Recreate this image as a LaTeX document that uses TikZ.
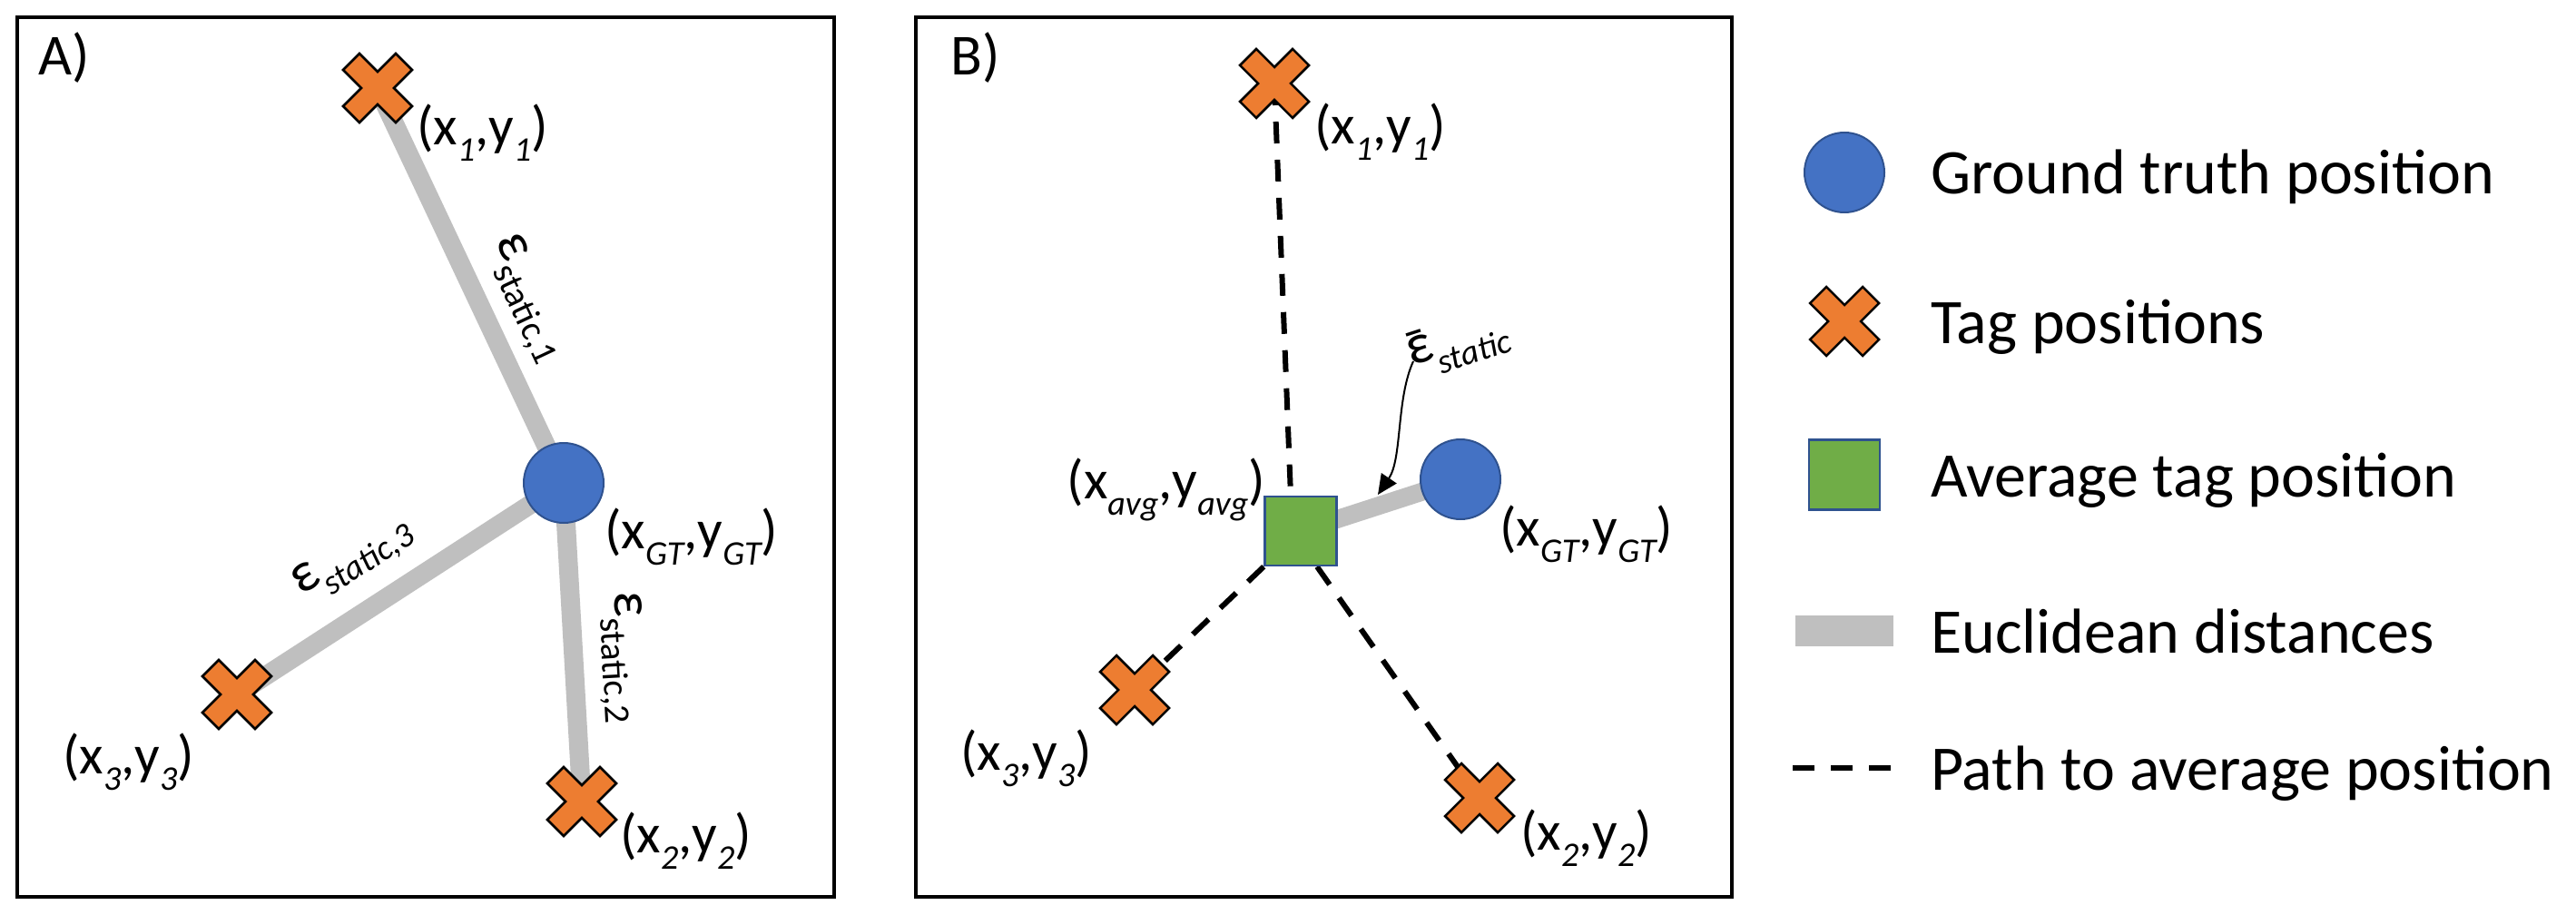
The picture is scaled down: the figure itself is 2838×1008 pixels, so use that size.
\documentclass[tikz,border=0pt]{standalone}
\usepackage{fontspec}
\setmainfont{Carlito}
\usetikzlibrary{arrows.meta,calc}
\definecolor{tagorange}{HTML}{ED7D31}
\definecolor{gtblue}{HTML}{4472C4}
\definecolor{edgeblue}{HTML}{2F528F}
\definecolor{avggreen}{HTML}{70AD47}
\definecolor{distgray}{HTML}{BFBFBF}
\newcommand{\sbi}[1]{\raisebox{-18pt}{\fontsize{38}{44}\selectfont\itshape #1}}
\newcommand{\sbu}[1]{\raisebox{-17pt}{\fontsize{40}{44}\selectfont #1}}
\newcommand{\epsbar}{\makebox[0pt][l]{\kern0.02em\raisebox{-0.05em}{¯}}ε}
\newcommand{\tagcross}[1]{\draw[tagshape,shift={(#1)}] (-38,-20) -- (-20,-38) -- (0,-18) -- (20,-38) -- (38,-20) -- (18,0) -- (38,20) -- (20,38) -- (0,18) -- (-20,38) -- (-38,20) -- (-18,0) -- cycle;}
\pgfdeclarelayer{back}
\pgfdeclarelayer{bg}
\pgfsetlayers{back,bg,main}
\begin{document}
\begin{tikzpicture}[x=1pt,y=-1pt,
  panel/.style={draw=black,line width=3.5pt},
  gtnode/.style={circle,fill=gtblue,draw=edgeblue,line width=2pt,minimum size=88pt,inner sep=0pt},
  avgnode/.style={rectangle,fill=avggreen,draw=edgeblue,line width=2.5pt,minimum width=79pt,minimum height=76pt,inner sep=0pt},
  tagnode/.style={circle,minimum size=76pt,inner sep=0pt},
  tagshape/.style={fill=tagorange,draw=black,line width=2.5pt,line join=miter},
  dist/.style={draw=distgray,line width=21pt},
  avgpath/.style={draw=black,line width=6pt,dash pattern=on 24pt off 18pt},
  txt/.style={inner sep=0pt,anchor=base west,font=\fontsize{61}{72}\selectfont},
  legtxt/.style={inner sep=0pt,anchor=base west,font=\fontsize{70}{80}\selectfont},
  eps/.style={inner sep=0pt,font=\fontsize{62}{72}\selectfont}
]
\begin{pgfonlayer}{back}
\path[fill=white] (0,0) rectangle (2838,1008);
\end{pgfonlayer}
\useasboundingbox (0,0) rectangle (2838,1008);

% panels
\draw[panel] (19,19) rectangle (919,988);
\draw[panel] (1009,19) rectangle (1908,988);
\node[inner sep=0pt,anchor=base west,font=\fontsize{64}{74}\selectfont] (pa) at (42,83) {A)};
\node[inner sep=0pt,anchor=base west,font=\fontsize{64}{74}\selectfont] (pb) at (1047,83) {B)};

% ---------- panel A ----------
\node[tagnode] (x1a) at (416,97) {};
\node[tagnode] (x2a) at (641,883) {};
\node[tagnode] (x3a) at (261,765) {};
\node[gtnode] (gta) at (621,532) {};
\begin{pgfonlayer}{bg}
\draw[dist] (x1a.center) -- node[eps,sloped,above=13pt,pos=0.583] (e1) {ε\sbu{static,1}} (gta.center);
\draw[dist] (gta.center) -- node[eps,sloped,above=16pt,pos=0.556] (e2) {ε\sbu{static,2}} (x2a.center);
\draw[dist] (x3a.center) -- node[eps,sloped,above=19pt,pos=0.44] (e3) {ε\sbi{static,3}} (gta.center);
\end{pgfonlayer}
\tagcross{x1a}
\tagcross{x2a}
\tagcross{x3a}
\node[txt] (lx1a) at (459,160) {(x\sbi{1},y\sbi{1})};
\node[txt] (lgta) at (666,604) {(x\sbi{GT},y\sbi{GT})};
\node[txt] (lx3a) at (69,852) {(x\sbi{3},y\sbi{3})};
\node[txt] (lx2a) at (683,939) {(x\sbi{2},y\sbi{2})};

% ---------- panel B ----------
\node[tagnode] (x1b) at (1404,92) {};
\node[tagnode] (x2b) at (1630,879) {};
\node[tagnode] (x3b) at (1250,760) {};
\node[gtnode] (gtb) at (1609,528) {};
\node[avgnode] (avgb) at (1433,585) {};
\begin{pgfonlayer}{bg}
\draw[dist,line width=20pt] (avgb.center) -- (gtb.center);
\draw[avgpath] (x1b.center) -- ($(avgb.north)+(-11,0)$);
\draw[avgpath] (avgb.south west) -- (x3b.center);
\draw[avgpath] ($(avgb.south)+(18,0)$) -- (x2b.center);
\end{pgfonlayer}
\tagcross{x1b}
\tagcross{x2b}
\tagcross{x3b}
\node[eps,rotate=18] (epsb) at (1606,378) {\epsbar\sbi{static}};
\coordinate (epsfoot) at (1557,398);
\coordinate (tipb) at (1518,545);
\draw[line width=2pt,-{Triangle[length=22pt,width=20pt]}] (epsfoot) .. controls (1538,440) and (1545,505) .. (tipb);
\node[txt] (lx1b) at (1448,159) {(x\sbi{1},y\sbi{1})};
\node[txt,anchor=base east] (lavg) at (1394,549) {(x\sbi{avg},y\sbi{avg})};
\node[txt] (lgtb) at (1652,601) {(x\sbi{GT},y\sbi{GT})};
\node[txt] (lx3b) at (1058,848) {(x\sbi{3},y\sbi{3})};
\node[txt] (lx2b) at (1675,936) {(x\sbi{2},y\sbi{2})};

% ---------- legend ----------
\node[gtnode] (leg1) at (2032,190) {};
\node[tagnode] (leg2) at (2032,354) {};
\tagcross{leg2}
\node[avgnode,minimum width=78pt,minimum height=77pt] (leg3) at (2032,523) {};
\node[rectangle,fill=distgray,minimum width=108pt,minimum height=34pt,inner sep=0pt] (leg4) at (2032,695) {};
\coordinate (leg5a) at (1975,846);
\coordinate (leg5b) at (2083,846);
\draw[avgpath] (leg5a) -- (leg5b);
\node[legtxt] (t1) at (2127,214) {Ground truth position};
\node[legtxt] (t2) at (2127,378) {Tag positions};
\node[legtxt] (t3) at (2127,547) {Average tag position};
\node[legtxt] (t4) at (2127,719) {Euclidean distances};
\node[legtxt] (t5) at (2127,870) {Path to average position};
\end{tikzpicture}
\end{document}
